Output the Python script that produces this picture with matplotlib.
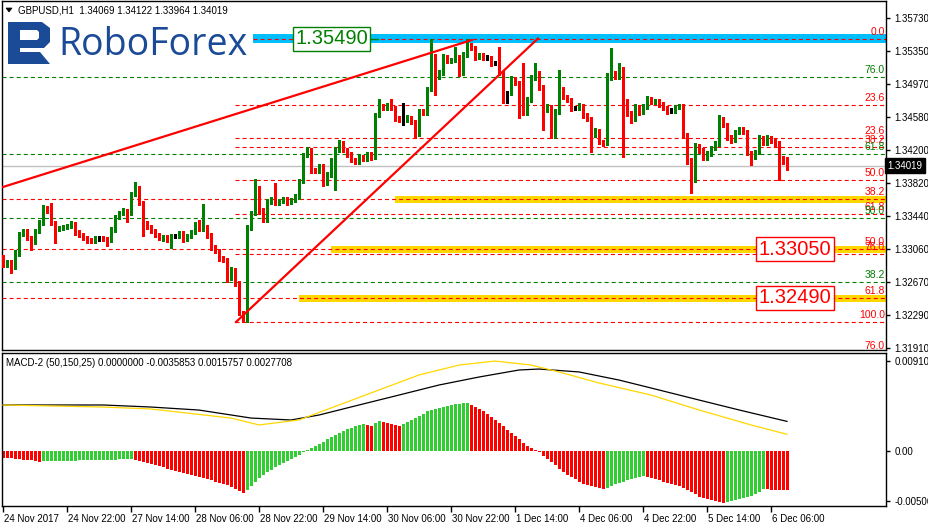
import matplotlib
matplotlib.use('Agg')
import matplotlib.pyplot as plt
from matplotlib.patches import Rectangle, Polygon
from matplotlib import font_manager as fm
import matplotlib.transforms as mtransforms
import numpy as np

# ---------------- data ----------------
first_open = 1.32927
closes = [
    1.32881, 1.32904, 1.32846, 1.33020, 1.33228, 1.33263, 1.33182, 1.33136, 1.33263, 1.33356,
    1.33518, 1.33495, 1.33356, 1.33286, 1.33298, 1.33309, 1.33321, 1.33344, 1.33251, 1.33217,
    1.33182, 1.33159, 1.33147, 1.33182, 1.33182, 1.33170, 1.33159, 1.33275, 1.33425, 1.33472,
    1.33495, 1.33472, 1.33691, 1.33761, 1.33587, 1.33356, 1.33309, 1.33263, 1.33217, 1.33182,
    1.33194, 1.33159, 1.33205, 1.33205, 1.33240, 1.33170, 1.33205, 1.33251, 1.33333, 1.33286,
    1.33309, 1.33217, 1.33078, 1.33031, 1.32950, 1.32927, 1.32719, 1.32811, 1.32661, 1.32313,
    1.32290, 1.33309, 1.33472, 1.33761, 1.33495, 1.33390, 1.33599, 1.33634, 1.33587, 1.33610,
    1.33634, 1.33599, 1.33622, 1.33657, 1.33842, 1.34143, 1.34201, 1.33969, 1.33958, 1.34016,
    1.33819, 1.33912, 1.34085, 1.34201, 1.34282, 1.34201, 1.34155, 1.34085, 1.34062, 1.34120,
    1.34097, 1.34155, 1.34120, 1.34606, 1.34711, 1.34687, 1.34711, 1.34687, 1.34572, 1.34548,
    1.34548, 1.34572, 1.34525, 1.34386, 1.34641, 1.34630, 1.34907, 1.35290, 1.35046, 1.35093,
    1.35278, 1.35232, 1.35243, 1.35278, 1.35093, 1.35301, 1.35417, 1.35382, 1.35278, 1.35301,
    1.35266, 1.35266, 1.35209, 1.35209, 1.35093, 1.34861, 1.34861, 1.35023, 1.34977, 1.34780,
    1.34630, 1.34780, 1.35035, 1.35093, 1.34931, 1.34664, 1.34699, 1.34375, 1.34641, 1.34896,
    1.34815, 1.34780, 1.34687, 1.34687, 1.34711, 1.34606, 1.34560, 1.34386, 1.34421, 1.34294,
    1.34282, 1.35035, 1.35093, 1.35046, 1.35139, 1.34768, 1.34630, 1.34560, 1.34699, 1.34641,
    1.34699, 1.34792, 1.34757, 1.34768, 1.34734, 1.34687, 1.34653, 1.34653, 1.34699, 1.34711,
    1.34375, 1.34085, 1.33854, 1.34247, 1.34201, 1.34108, 1.34155, 1.34224, 1.34271, 1.34560,
    1.34491, 1.34352, 1.34317, 1.34409, 1.34433, 1.34409, 1.34166, 1.34120, 1.34178, 1.34340,
    1.34282, 1.34340, 1.34305, 1.34282, 1.34108, 1.34069, 1.34019,
]
# wick lengths in pips (0.0001) above / below the body
upper_wick = [
    6, 3, 2, 2, 3, 2, 3, 2, 2, 3,   5, 3, 9, 2, 2, 2, 2, 4, 2, 2,
    2, 2, 2, 3, 2, 2, 2, 3, 2, 2,   3, 2, 3, 7, 2, 2, 2, 2, 2, 2,
    2, 2, 2, 3, 2, 2, 2, 2, 3, 6,   27, 2, 2, 2, 3, 2, 2, 4, 2, 2,
    2, 3, 2, 10, 2, 3, 3, 2, 19, 2, 2, 2, 2, 3, 2, 2, 3, 2, 3, 2,
    2, 3, 2, 3, 3, 2, 2, 2, 2, 3,   2, 2, 2, 3, 8, 2, 3, 8, 2, 2,
    20, 3, 2, 2, 3, 4, 3, 20, 2, 3, 3, 2, 2, 12, 2, 3, 7, 2, 2, 2,
    2, 3, 2, 2, 19, 2, 2, 3, 2, 2,  43, 3, 3, 12, 2, 2, 3, 2, 3, 23,
    3, 2, 2, 2, 3, 2, 2, 2, 3, 2,   2, 6, 29, 2, 7, 2, 2, 2, 3, 2,
    3, 4, 2, 2, 2, 2, 2, 3, 2, 2,   2, 2, 2, 4, 3, 2, 3, 2, 3, 5,
    2, 2, 2, 3, 3, 3, 2, 2, 2, 3,   2, 3, 2, 2, 2, 3, 5,
]
lower_wick = [
    3, 3, 7, 2, 5, 2, 2, 9, 2, 2,   2, 2, 2, 16, 2, 2, 2, 2, 3, 2,
    2, 3, 2, 2, 3, 2, 7, 2, 2, 2,   2, 10, 2, 2, 2, 15, 2, 2, 2, 2,
    3, 2, 9, 2, 2, 3, 2, 2, 2, 2,   2, 3, 3, 2, 3, 2, 4, 2, 3, 2,
    8, 8, 3, 2, 3, 2, 2, 2, 2, 2,   2, 3, 2, 2, 2, 2, 2, 3, 2, 2,
    3, 2, 2, 35, 2, 2, 3, 2, 2, 2,  2, 2, 3, 2, 2, 2, 2, 2, 3, 2,
    6, 2, 2, 4, 2, 2, 2, 2, 21, 2,  2, 2, 2, 2, 3, 2, 2, 2, 3, 2,
    2, 2, 3, 2, 2, 12, 12, 2, 2, 21, 2, 2, 2, 2, 3, 23, 2, 3, 3, 2,
    2, 2, 3, 2, 2, 3, 2, 21, 3, 2,  3, 2, 2, 2, 2, 65, 3, 4, 2, 3,
    2, 2, 2, 2, 3, 2, 3, 2, 2, 2,   3, 4, 15, 2, 3, 2, 2, 2, 2, 2,
    2, 3, 3, 2, 2, 2, 2, 9, 2, 2,   2, 2, 2, 3, 25, 3, 5,
]

price_ticks = [1.35730, 1.35350, 1.34970, 1.34580, 1.34200, 1.33820,
               1.33440, 1.33060, 1.32670, 1.32290, 1.31910]
price_tick_labels = ['1.35730', '1.35350', '1.34970', '1.34580', '1.34200', '1.33820',
                     '1.33440', '1.33060', '1.32670', '1.32290', '1.31910']
last_price = 1.34019

time_tick_labels = ['24 Nov 2017', '24 Nov 22:00', '27 Nov 14:00', '28 Nov 06:00',
                    '28 Nov 22:00', '29 Nov 14:00', '30 Nov 06:00', '30 Nov 22:00',
                    '1 Dec 14:00', '4 Dec 06:00', '4 Dec 22:00', '5 Dec 14:00', '6 Dec 06:00']
time_tick_bars = [0, 16, 32, 48, 64, 80, 96, 112, 128, 144, 160, 176, 192]

# Fibonacci levels
fib_levels = [1.35490, 1.35044, 1.34723, 1.34344, 1.34240, 1.34153, 1.33855, 1.33631,
              1.33461, 1.33411, 1.33053, 1.32995, 1.32670, 1.32483, 1.32207, 1.31852]
fib_labels = ['0.0', '76.0', '23.6', '23.6', '38.2', '61.8', '50.0', '38.2',
              '61.8', '50.0', '50.0', '76.0', '38.2', '61.8', '100.0', '76.0']
fib_kind = ['r', 'g', 'r', 'r', 'r', 'g', 'r', 'r', 'r', 'g', 'r', 'r', 'g', 'r', 'r', 'r']
fib_start_bar = [62.5, -0.25, 58, 58, 58, -0.25, 58, -0.25, 58, -0.25, -0.25, 58,
                 -0.25, -0.25, 58, 58]

# highlighted zones
zone_levels = [1.33631, 1.33053, 1.32483]
zone_start_bar = [98, 82, 74]
blue_level = 1.35490
blue_start_bar = 62.5

# trend lines (bar, price)
trend1 = ([0, 117.2], [1.33774, 1.35475])
trend2 = ([58.25, 133.75], [1.32211, 1.35493])

# boxed price labels
box_labels = ['1.35490', '1.33050', '1.32490']
box_bars = [82.1, 198, 198]
box_prices = [1.35490, 1.33053, 1.32490]
box_colors = ['#008000', '#FF0000', '#FF0000']

# MACD-2 histogram (units of 1e-4)
macd_hist_e4 = [
    -6, -6.5, -6.5, -7, -7.5, -8, -8.5, -8.5, -9, -9.5,
    -9.4, -9.3, -9.2, -9.1, -9.0, -8.9, -8.8, -8.7, -8.6, -8.5, -8.4, -8.3,
    -8.2, -8.1, -8.0, -7.9, -7.8, -7.7, -7.6, -7.5, -7.4, -7.3, -7.2,
    -8, -9, -10, -11, -12, -13, -14, -15, -16, -17, -18, -19, -20, -21, -22,
    -23, -24, -25, -26, -27, -28, -29, -30, -31, -33, -35, -37, -39,
    -36, -32, -28, -25, -22, -19, -17, -15, -13, -11, -9, -7, -5, -3, -1,
    1, 3, 5, 7, 9, 11, 13, 15, 17, 19, 21, 22, 23, 24, 25,
    24, 23, 26, 28, 27, 26, 25, 24, 23, 25,
    27, 29, 31, 33, 35, 37, 38, 39, 40, 41, 42, 43, 43.5, 44, 44.5, 45,
    43, 41, 39, 37, 35, 32, 29, 26, 23, 20, 17, 14, 11, 8, 5, 3, 1,
    -1, -4, -7, -10, -13, -16, -19, -22, -24, -26, -28, -30, -31, -32, -33, -34, -35,
    -34, -32, -30, -29, -28, -27, -26, -25, -24, -23,
    -24, -25, -26, -27, -28, -29, -30, -31, -32,
    -34, -36, -38, -40, -42, -43, -44, -45, -46, -47, -48,
    -47, -46, -45, -44, -43, -42, -41, -40, -38, -35,
    -35.2, -35.4, -35.5, -35.6, -35.7, -35.853,
]
macd_black_bars = [0, 25, 37, 49, 62, 72, 79, 89, 99, 109, 119, 129, 134, 144, 154, 164, 174, 184, 196]
macd_black_e4 = [42.9, 42.9, 41.0, 38.2, 30.8, 29.0, 33.6, 42.9, 52.1, 61.4, 68.8, 75.3, 76.2,
                 73.5, 66.0, 56.8, 47.5, 38.3, 27.708]
macd_yellow_bars = [0, 25, 37, 57, 64, 74, 84, 94, 104, 114, 123, 132, 139, 149, 162, 174, 187, 196]
macd_yellow_e4 = [42.9, 41.0, 39.2, 30.8, 24.4, 29.0, 42.9, 56.8, 70.7, 79.9, 83.6, 79.9, 73.5,
                  63.3, 52.1, 38.3, 24.4, 15.757]
macd_top, macd_bottom = 0.009105, -0.005067

# ---------------- figure ----------------
W, H = 929, 528
fig = plt.figure(figsize=(W / 100, H / 100), dpi=100)
fig.patch.set_facecolor('white')
plt.rcParams['lines.scale_dashes'] = False

avail = {f.name for f in fm.fontManager.ttflist}
SMALL = 'Liberation Sans Narrow' if 'Liberation Sans Narrow' in avail else 'Liberation Sans'
BIG = 'Liberation Sans'
SFS = 7


def rect(x0, y0, x1, y1):
    return [x0 / W, 1 - y1 / H, (x1 - x0) / W, (y1 - y0) / H]


ax = fig.add_axes(rect(2, 1, 886, 350))
axm = fig.add_axes(rect(2, 353, 886, 506))
XL = (-0.25, 220.75)
for a in (ax, axm):
    a.set_xlim(*XL)
    for s in a.spines.values():
        s.set_color('black')
        s.set_linewidth(1.0)
ax.set_ylim(1.318868, 1.359268)
axm.set_ylim(macd_bottom, macd_top)

RED, GREEN = '#FF0000', '#008000'
DASH = (2.9, 2.2)

# blue band and yellow zones
ax.add_patch(Rectangle((blue_start_bar, blue_level - 0.00052), XL[1] - blue_start_bar, 0.00104,
                       facecolor='#00BFFF', edgecolor='none', zorder=1))
for lv, sb in zip(zone_levels, zone_start_bar):
    ax.add_patch(Rectangle((sb, lv - 0.00043), XL[1] - sb, 0.00086,
                           facecolor='#FFD700', edgecolor='none', zorder=1))

# fib lines and labels
for lv, lab, k, sb in zip(fib_levels, fib_labels, fib_kind, fib_start_bar):
    col = RED if k == 'r' else GREEN
    ax.plot([sb, XL[1]], [lv, lv], color=col, lw=0.8, dashes=DASH, zorder=2)
    ax.annotate(lab, xy=(220.5, lv), xytext=(0, 1.5), textcoords='offset points',
                ha='right', va='bottom', color=col, fontsize=7.5, family=SMALL, zorder=6,
                annotation_clip=False, clip_on=True)

# current price line
ax.axhline(last_price, color='#C0C0C0', lw=1.0, zorder=2)

# candles
n = len(closes)
idx = np.arange(n)
c = np.array(closes)
o = np.concatenate([[first_open], c[:-1]])
hi = np.maximum(o, c) + np.array(upper_wick) * 1e-4
lo = np.minimum(o, c) - np.array(lower_wick) * 1e-4
cols = np.where(c > o + 1e-7, GREEN, np.where(c < o - 1e-7, RED, '#000000'))
ax.vlines(idx, lo, hi, colors=cols, lw=1.0, zorder=3, antialiased=False)
bh = np.maximum(np.abs(c - o), 0.00011)
bb = np.where(np.abs(c - o) < 0.00011, (o + c) / 2 - 0.000055, np.minimum(o, c))
ax.bar(idx, bh, bottom=bb, width=0.75, color=cols, linewidth=0, zorder=3, antialiased=False)

# trend lines
ax.plot(trend1[0], trend1[1], color=RED, lw=1.6, zorder=4)
ax.plot(trend2[0], trend2[1], color=RED, lw=1.6, zorder=4)

# boxed labels
for t, b, p, cc in zip(box_labels, box_bars, box_prices, box_colors):
    ax.text(b, p, t, ha='center', va='center', color=cc, fontsize=14.5, family=BIG, zorder=7,
            bbox=dict(boxstyle='square,pad=0.12', facecolor='white', edgecolor=cc, linewidth=1.0))
ax.plot([91.9, 93.8], [1.35490, 1.35490], color=GREEN, lw=1.0, zorder=7)

# right axis of main chart
ax.yaxis.tick_right()
ax.set_yticks(price_ticks)
ax.set_yticklabels(price_tick_labels)
ax.tick_params(axis='y', direction='out', length=3, width=1, pad=3, labelsize=SFS, colors='black')
for tl in ax.get_yticklabels():
    tl.set_family(SMALL)
ax.set_xticks([])
ax.text(1.0015, last_price, '1.34019', transform=ax.get_yaxis_transform(), ha='left', va='center',
        color='white', fontsize=SFS, family=SMALL, zorder=8,
        bbox=dict(boxstyle='square,pad=0.25', facecolor='black', edgecolor='black'))

# MACD panel
h = np.array(macd_hist_e4) * 1e-4
hcols = [RED] + [('#32CD32' if h[i] > h[i - 1] else RED) for i in range(1, n)]
axm.bar(idx, h, width=0.75, color=hcols, linewidth=0, zorder=2, antialiased=False)
axm.plot(macd_black_bars, np.array(macd_black_e4) * 1e-4, color='black', lw=0.9, zorder=3)
axm.plot(macd_yellow_bars, np.array(macd_yellow_e4) * 1e-4, color='#FFD700', lw=0.9, zorder=3)
axm.yaxis.tick_right()
axm.set_yticks([macd_top - 8 / 10796, 0.0, macd_bottom + 5 / 10796])
axm.set_yticklabels(['0.009105', '0.00', '-0.005067'])
axm.tick_params(axis='y', direction='out', length=3, width=1, pad=3, labelsize=SFS)
for tl in axm.get_yticklabels():
    tl.set_family(SMALL)
axm.set_xticks(time_tick_bars)
axm.set_xticklabels(time_tick_labels)
axm.tick_params(axis='x', direction='out', length=4, width=1, pad=2, labelsize=SFS)
off = mtransforms.ScaledTranslation(1 / 100, 0, fig.dpi_scale_trans)
for tl in axm.get_xticklabels():
    tl.set_ha('left')
    tl.set_family(SMALL)
    tl.set_transform(tl.get_transform() + off)

# overlay: header, indicator title, logo
ov = fig.add_axes([0, 0, 1, 1], zorder=10)
ov.set_xlim(0, W)
ov.set_ylim(H, 0)
ov.axis('off')
ov.patch.set_alpha(0)
ov.add_patch(Polygon([(6, 8), (12, 8), (9, 12)], closed=True, facecolor='black', edgecolor='black', lw=0.5))
ov.text(18, 10.5, 'GBPUSD,H1  1.34069 1.34122 1.33964 1.34019', va='center', ha='left',
        fontsize=SFS, family=SMALL, color='black')
ov.text(6, 362.5, 'MACD-2 (50,150,25) 0.0000000 -0.0035853 0.0015757 0.0027708', va='center',
        ha='left', fontsize=SFS, family=SMALL, color='black')
LOGO = '#1B4B97'
ov.add_patch(Polygon([(8, 22), (20, 22), (20, 64), (8, 64)], closed=True, facecolor=LOGO, edgecolor='none'))
ov.add_patch(Polygon([(8, 22), (42, 22), (50, 28), (50, 42), (44, 48), (20, 48), (20, 40), (37, 40),
                      (39, 38), (39, 32), (37, 30), (20, 30)], closed=True, facecolor=LOGO, edgecolor='none'))
ov.add_patch(Polygon([(20, 52), (40, 52), (50, 64), (20, 64)], closed=True, facecolor=LOGO, edgecolor='none'))
ov.text(58, 55, 'RoboForex', ha='left', va='baseline', fontsize=27, family='Open Sans',
        color=LOGO)

fig.savefig('out.png', dpi=100, facecolor='white')
